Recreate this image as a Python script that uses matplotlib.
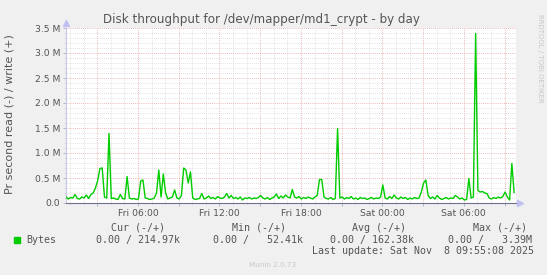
import matplotlib
matplotlib.use("Agg")
import matplotlib.pyplot as plt
import numpy as np

# ---- data (write throughput, MB/s, 10-minute samples) ----
t_start_hours = 0.7          # hours after Fri 00:00
t_step_hours = 1.0 / 6.0
write_mbytes = [
    0.12, 0.08, 0.11, 0.10, 0.17, 0.09, 0.08, 0.12, 0.10, 0.16, 0.09, 0.17,
    0.20, 0.30, 0.45, 0.69, 0.70, 0.12, 0.10, 1.39, 0.09, 0.10, 0.08, 0.07,
    0.17, 0.09, 0.08, 0.53, 0.10, 0.08, 0.09, 0.07, 0.08, 0.44, 0.46, 0.10,
    0.09, 0.07, 0.08, 0.10, 0.20, 0.66, 0.12, 0.58, 0.20, 0.08, 0.10, 0.12,
    0.26, 0.10, 0.08, 0.15, 0.70, 0.66, 0.40, 0.62, 0.10, 0.07, 0.08, 0.09,
    0.19, 0.08, 0.10, 0.14, 0.09, 0.11, 0.08, 0.13, 0.10, 0.09, 0.12, 0.19,
    0.10, 0.15, 0.09, 0.11, 0.08, 0.12, 0.06, 0.10, 0.09, 0.11, 0.08, 0.10,
    0.09, 0.11, 0.15, 0.10, 0.08, 0.11, 0.07, 0.10, 0.12, 0.18, 0.09, 0.14,
    0.10, 0.16, 0.12, 0.10, 0.27, 0.12, 0.10, 0.13, 0.08, 0.11, 0.09, 0.12,
    0.10, 0.08, 0.12, 0.15, 0.47, 0.47, 0.12, 0.09, 0.08, 0.11, 0.07, 0.09,
    1.49, 0.10, 0.12, 0.08, 0.11, 0.09, 0.13, 0.08, 0.10, 0.07, 0.11, 0.09,
    0.10, 0.07, 0.09, 0.11, 0.08, 0.10, 0.09, 0.12, 0.36, 0.10, 0.08, 0.13,
    0.09, 0.16, 0.10, 0.08, 0.12, 0.09, 0.11, 0.07, 0.10, 0.08, 0.11, 0.09,
    0.10, 0.22, 0.40, 0.46, 0.15, 0.09, 0.12, 0.08, 0.15, 0.10, 0.07, 0.09,
    0.11, 0.08, 0.10, 0.09, 0.15, 0.12, 0.08, 0.10, 0.06, 0.07, 0.49, 0.10,
    0.12, 3.39, 0.25, 0.22, 0.23, 0.20, 0.19, 0.10, 0.08, 0.11, 0.09, 0.12,
    0.10, 0.13, 0.22, 0.12, 0.06, 0.79, 0.21,
]
x_tick_hours = [6, 12, 18, 24, 30]
x_tick_labels = ["Fri 06:00", "Fri 12:00", "Fri 18:00", "Sat 00:00", "Sat 06:00"]
y_tick_values = [0.0, 0.5, 1.0, 1.5, 2.0, 2.5, 3.0, 3.5]
y_tick_labels = ["0.0", "0.5 M", "1.0 M", "1.5 M", "2.0 M", "2.5 M", "3.0 M", "3.5 M"]

title = "Disk throughput for /dev/mapper/md1_crypt - by day"
ylabel = "Pr second read (-) / write (+)"
legend_name = "Bytes"
cur_txt = "0.00 / 214.97k"
min_txt = "0.00 /   52.41k"
avg_txt = "0.00 / 162.38k"
max_txt = "0.00 /   3.39M"
last_update = "Last update: Sat Nov  8 09:55:08 2025"
munin_ver = "Munin 2.0.73"

# ---- figure ----
W, H = 547, 275
fig = plt.figure(figsize=(W / 100, H / 100), dpi=100, facecolor="#f0f0f0")

def fx(x):
    return x / W

def fy(y):
    return 1 - y / H

left, right, top, bottom = 66, 515.7, 28, 203
ax = fig.add_axes([fx(left), fy(bottom), (right - left) / W, (bottom - top) / H])
ax.set_facecolor("white")

times = t_start_hours + t_step_hours * np.arange(len(write_mbytes))
vals = np.array(write_mbytes) * 1e6
ax.plot(times, vals, color="#00cc00", lw=1.0, zorder=3)

ax.set_xlim(t_start_hours, t_start_hours + t_step_hours * (len(write_mbytes) - 0.3))
ax.set_ylim(0, 3.5e6)

# grid
maj_x = np.arange(3, 34, 3)
min_x = np.arange(1, 34, 1)
ax.set_xticks(maj_x)
ax.set_xticklabels([x_tick_labels[x_tick_hours.index(h)] if h in x_tick_hours else "" for h in maj_x])
ax.set_xticks(min_x, minor=True)
ax.set_yticks(np.array(y_tick_values) * 1e6)
ax.set_yticklabels(y_tick_labels)
ax.set_yticks(np.arange(0, 3.55e6, 1e5), minor=True)

ax.grid(which="minor", color="#d8d8d8", lw=0.6, ls=(0, (1, 1.5)), zorder=0)
ax.grid(which="major", color="#e8a0a0", lw=0.6, ls=(0, (1, 1.5)), zorder=1)

ax.tick_params(axis="both", which="both", colors="#aaaacc", labelcolor="#555555",
               labelsize=6.7, length=2, width=0.6, pad=2)
ax.tick_params(axis="both", which="minor", length=1)

for s in ["top", "right"]:
    ax.spines[s].set_visible(False)
ax.spines["left"].set_color("#c8c8ee")
ax.spines["left"].set_linewidth(0.8)
ax.spines["bottom"].set_color("#707090")
ax.spines["bottom"].set_linewidth(0.8)

# axis arrows
ax.plot([0], [1.03], marker="^", ms=4, color="#c0c0f0", transform=ax.transAxes, clip_on=False)
ax.plot([1.01], [0], marker=">", ms=4, color="#c0c0f0", transform=ax.transAxes, clip_on=False)

# texts
fig.text(fx(261), fy(19), title, ha="center", va="center", fontsize=8.55, color="#555555")
fig.text(fx(10), fy(114), ylabel, ha="center", va="center", rotation=90, fontsize=8.0, color="#555555")
fig.text(fx(540), fy(14), "RRDTOOL / TOBI OETIKER", ha="center", va="top", rotation=270,
         fontsize=5.0, color="#c8c8c8")

mono = "DejaVu Sans Mono"
fs = 7.2
fig.text(fx(111), fy(228), "Cur (-/+)", ha="left", va="center", family=mono, fontsize=fs, color="#555555")
fig.text(fx(231.7), fy(228), "Min (-/+)", ha="left", va="center", family=mono, fontsize=fs, color="#555555")
fig.text(fx(352.3), fy(228), "Avg (-/+)", ha="left", va="center", family=mono, fontsize=fs, color="#555555")
fig.text(fx(472.7), fy(228), "Max (-/+)", ha="left", va="center", family=mono, fontsize=fs, color="#555555")

fig.patches.append(plt.Rectangle((fx(14), fy(242.5)), 6 / W, 5.5 / H, transform=fig.transFigure,
                                 color="#00cc00", figure=fig))
fig.text(fx(26.7), fy(240), legend_name, ha="left", va="center", family=mono, fontsize=fs, color="#555555")
fig.text(fx(95.7), fy(240), cur_txt, ha="left", va="center", family=mono, fontsize=fs, color="#555555")
fig.text(fx(213.3), fy(240), min_txt, ha="left", va="center", family=mono, fontsize=fs, color="#555555")
fig.text(fx(330), fy(240), avg_txt, ha="left", va="center", family=mono, fontsize=fs, color="#555555")
fig.text(fx(448.3), fy(240), max_txt, ha="left", va="center", family=mono, fontsize=fs, color="#555555")
fig.text(fx(311.7), fy(251.5), last_update, ha="left", va="center", family=mono, fontsize=fs, color="#555555")
fig.text(fx(273), fy(265), munin_ver, ha="center", va="center", fontsize=5.2, color="#c8c8c8")

fig.savefig("out.png", dpi=100, facecolor=fig.get_facecolor())
